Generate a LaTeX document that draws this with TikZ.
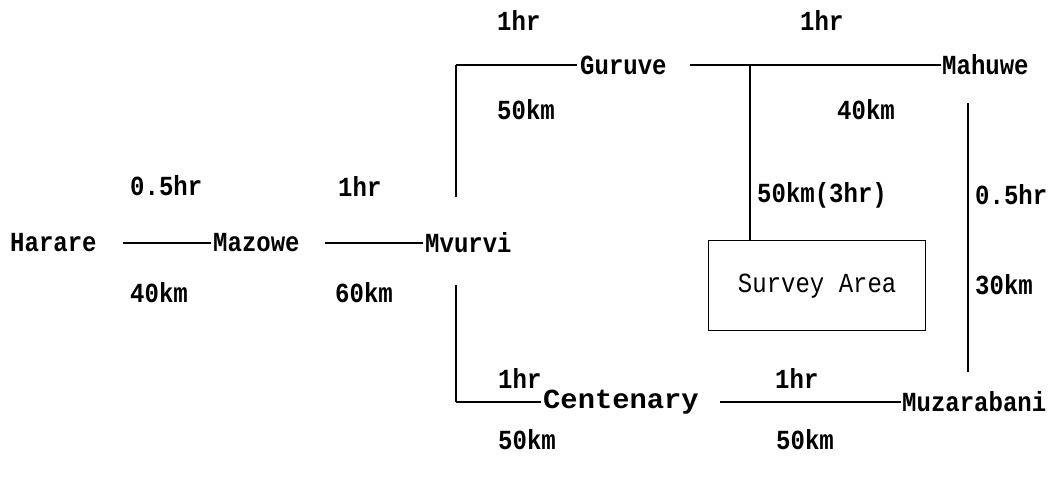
\documentclass[tikz,border=0pt]{standalone}
\usepackage{fontspec}
\setmonofont{Liberation Mono}
\newcommand{\tallt}[1]{\scalebox{1}[1.15]{#1}}
\begin{document}
\begin{tikzpicture}[x=1pt,y=-1pt,
  lbl/.style={font=\ttfamily\bfseries\fontsize{24}{26}\selectfont, inner sep=0pt, anchor=west},
  road/.style={line width=1.1pt},
  vroad/.style={line width=2pt},
  boxs/.style={draw, line width=1.3pt, minimum width=217pt, minimum height=90pt, anchor=north west,
    font=\ttfamily\fontsize{24}{26}\selectfont}]
\useasboundingbox (0,0) rectangle (1048,477);
% towns
\node[lbl] (harare) at (10,243) {\tallt{Harare}};
\node[lbl] (mazowe) at (213,243) {\tallt{Mazowe}};
\node[lbl] (mvurvi) at (425,243) {\tallt{Mvurvi}};
\node[lbl] (guruve) at (580,65) {\tallt{Guruve}};
\node[lbl] (mahuwe) at (942,65) {\tallt{Mahuwe}};
\node[lbl] (centenary) at (543,402) {\scalebox{1.2}[1.15]{Centenary}};
\node[lbl] (muzarabani) at (902,402) {\tallt{Muzarabani}};
\node[boxs] (survey) at (708,240) {\tallt{Survey Area}};
% labels
\node[lbl] (l1) at (130,186) {\tallt{0.5hr}};
\node[lbl] (l2) at (130,293) {\tallt{40km}};
\node[lbl] (l3) at (338,186) {\tallt{1hr}};
\node[lbl] (l4) at (335,293) {\tallt{60km}};
\node[lbl] (l5) at (497,20) {\tallt{1hr}};
\node[lbl] (l6) at (497,110) {\tallt{50km}};
\node[lbl] (l7) at (800,20) {\tallt{1hr}};
\node[lbl] (l8) at (837,110) {\tallt{40km}};
\node[lbl] (l9) at (757,195) {\tallt{50km(3hr)}};
\node[lbl] (l10) at (975,195) {\tallt{0.5hr}};
\node[lbl] (l11) at (975,285) {\tallt{30km}};
\node[lbl] (l12) at (498,378) {\tallt{1hr}};
\node[lbl] (l13) at (775,378) {\tallt{1hr}};
\node[lbl] (l14) at (498,440) {\tallt{50km}};
\node[lbl] (l15) at (776,440) {\tallt{50km}};
% connector ends
\coordinate (a1) at (123,243);
\coordinate (b1) at (325,243);
\coordinate (c1) at (456,197);
\coordinate (c2) at (456,65);
\coordinate (d1) at (690,65);
\coordinate (j1) at (750,65);
\coordinate (e1) at (456,285);
\coordinate (e2) at (456,402);
\coordinate (f1) at (720,402);
\coordinate (g1) at (968,103);
\coordinate (g2) at (968,372);
% connectors
\draw[road] (a1) -- ([xshift=-2pt]mazowe.west);
\draw[road] (b1) -- ([xshift=-2pt]mvurvi.west);
\draw[vroad] (c1) -- (c2);
\draw[road] (c2) -- ([xshift=-3pt]guruve.west);
\draw[road] (d1) -- ([xshift=-1pt]mahuwe.west);
\draw[vroad] (j1) -- (survey.north -| j1);
\draw[vroad] (e1) -- (e2);
\draw[road] (e2) -- ([xshift=-2pt]centenary.west);
\draw[road] (f1) -- ([xshift=-1pt]muzarabani.west);
\draw[vroad] (g1) -- (g2);
\end{tikzpicture}
\end{document}
